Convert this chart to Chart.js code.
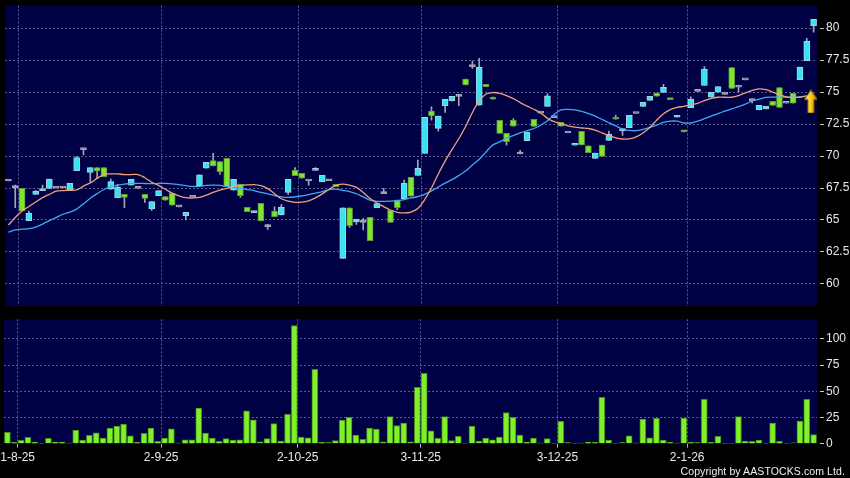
<!DOCTYPE html>
<html>
<head>
<meta charset="utf-8">
<script src="https://cdn.jsdelivr.net/npm/chart.js@4.4.1/dist/chart.umd.min.js"></script>
<style>
body { margin: 0; background: #000; width: 850px; height: 478px; overflow: hidden; position: relative; }
#priceChart { position: absolute; left: 0; top: 0; }
#volChart { position: absolute; left: 0; top: 312px; }
#copy { position: absolute; right: 5px; top: 465px; color: #f0f0f0; font: 10.5px "Liberation Sans", Arial, sans-serif; letter-spacing: 0.1px; }
</style>
</head>
<body>
<canvas id="priceChart" width="850" height="312"></canvas>
<canvas id="volChart" width="850" height="166"></canvas>
<div id="copy">Copyright by AASTOCKS.com Ltd.</div>
<script>
// daily candles, index 0..118
var opens = [68.05,67.53,67.47,64.95,67.0,67.3,67.47,67.5,67.5,67.29,
  68.85,70.5,68.72,69.09,69.09,67.4,66.75,67.0,67.73,67.47,
  67.0,65.86,66.9,66.82,67.08,66.02,65.34,66.8,67.68,69.04,
  69.64,69.56,69.82,67.34,67.79,65.99,65.57,66.3,64.48,65.7,
  65.39,67.16,68.88,68.65,68.05,68.88,68.0,68.07,67.79,62.0,
  65.96,64.85,64.82,65.21,65.96,67.06,65.75,66.51,66.67,68.33,
  68.49,70.2,73.52,72.16,73.93,74.3,74.66,76.02,76.98,73.98,
  75.6,74.6,72.79,71.77,72.81,70.16,71.2,72.86,73.35,73.88,
  73.0,72.63,71.8,70.84,71.92,70.8,69.82,70.86,71.22,73.02,
  71.98,72.21,73.32,73.88,74.35,74.91,74.97,74.48,73.03,71.98,
  73.78,75.05,75.51,74.59,74.98,74.82,76.9,75.37,75.95,74.33,
  73.6,73.67,74.27,75.35,74.12,74.9,75.96,77.45,80.19];
var highs = [68.05,67.73,67.47,65.7,67.3,67.73,68.2,67.5,67.5,67.86,
  69.95,70.5,69.09,69.09,69.09,68.2,67.78,67.0,68.18,67.47,
  67.0,66.43,67.29,66.82,67.08,66.02,65.6,66.8,68.52,69.5,
  70.2,69.56,69.82,68.18,67.79,65.99,65.7,66.3,64.66,66.03,
  66.2,68.18,69.1,68.65,68.05,69.1,68.49,68.07,67.79,65.96,
  65.96,65.05,65.13,65.21,66.28,67.47,65.75,66.51,68.12,68.33,
  69.69,73.02,73.85,73.12,74.43,74.66,74.82,76.02,77.42,77.63,
  75.6,74.6,72.79,71.77,72.92,70.45,71.86,72.86,73.35,74.87,
  73.0,72.63,71.8,70.94,71.92,70.8,70.23,70.86,71.95,73.2,
  72.15,73.18,73.32,74.2,74.66,74.91,75.6,74.48,73.13,71.98,
  74.62,75.05,76.98,74.97,75.43,74.82,76.9,75.37,75.95,74.45,
  73.96,73.88,74.27,75.35,74.12,74.9,76.95,79.2,80.68];
var lows = [68.05,65.96,65.7,64.95,67.0,67.3,67.47,67.5,67.5,67.29,
  68.85,70.08,68.0,68.26,68.39,67.4,66.75,65.96,67.73,67.47,
  66.38,65.75,66.9,66.54,66.15,66.02,65.0,66.8,67.68,69.04,
  69.22,68.57,67.6,67.34,66.77,65.65,65.57,64.92,64.27,65.26,
  65.39,67.0,68.46,68.26,67.73,68.88,68.0,68.07,67.6,62.0,
  64.42,64.65,64.22,63.38,65.96,67.06,64.82,65.8,66.67,66.87,
  68.49,70.2,72.8,71.95,73.4,74.3,73.93,75.55,76.85,73.98,
  75.41,74.45,71.77,70.85,72.34,70.16,71.2,72.32,73.35,73.88,
  73.0,72.34,71.8,70.84,70.86,70.26,69.82,69.97,71.22,72.87,
  71.6,72.21,73.32,73.88,74.35,74.67,74.97,74.4,73.03,71.88,
  73.78,75.05,75.51,74.59,74.98,74.82,75.29,75.0,75.95,74.15,
  73.6,73.67,73.95,73.8,74.12,74.12,75.96,77.45,79.67];
var closes = [68.05,67.53,65.7,65.52,67.24,67.45,68.2,67.5,67.5,67.86,
  69.87,70.5,69.09,68.83,68.39,68.0,67.58,66.77,68.18,67.47,
  66.69,66.43,67.29,66.54,66.15,66.02,65.6,66.8,68.52,69.5,
  69.22,68.78,67.6,68.18,66.9,65.65,65.7,64.92,64.48,65.26,
  65.99,68.18,68.46,68.26,68.05,69.0,68.49,68.07,67.6,65.96,
  64.56,65.05,64.82,63.38,66.28,67.06,64.82,65.96,67.86,66.87,
  69.04,73.02,73.15,73.12,74.43,74.66,74.66,75.55,76.98,76.93,
  75.41,74.45,71.77,71.12,72.34,70.16,71.86,72.32,73.35,74.7,
  73.0,72.34,71.8,70.94,70.86,70.26,70.23,69.97,71.7,72.87,
  72.15,73.18,73.32,74.2,74.66,74.67,75.37,74.4,73.13,71.88,
  74.44,75.05,76.8,74.97,75.43,74.82,75.29,75.37,75.95,74.33,
  73.96,73.88,73.95,73.8,74.12,74.12,76.95,78.97,80.68];
var volumes = [10.8,1.3,3.2,6.1,1.6,0.3,5.1,1.6,1.6,0.6,
  13.1,3.5,8.0,10.5,5.4,15.0,16.9,18.8,7.6,1.3,
  9.9,15.0,2.2,5.4,14.3,0.6,3.8,3.8,34.1,10.2,
  5.4,2.2,4.8,3.5,3.8,31.5,22.9,1.9,4.8,19.1,
  2.5,28.0,112.7,6.4,5.7,71.0,1.3,1.0,2.9,22.6,
  25.2,8.3,4.1,15.0,14.0,1.9,25.8,17.2,19.7,1.9,
  53.8,67.2,12.4,5.1,25.8,2.9,7.0,0.6,16.9,2.5,
  5.4,3.8,6.4,29.6,25.2,8.3,1.6,5.4,0.5,4.8,
  0.3,21.3,1.0,0.3,0.5,1.6,1.3,44.3,3.5,0.5,
  1.0,7.6,0.5,23.6,5.7,24.2,3.5,1.3,0.6,24.5,
  1.3,1.0,42.4,1.3,7.0,0.3,0.3,25.8,2.5,2.2,
  3.5,0.3,19.7,2.2,0.3,0.8,21.7,42.4,8.6];
// moving averages (orange = short, blue = long)
var maShort = [64.6,65.2,65.7,66.05,66.4,66.75,67.0,67.25,67.3,67.32,
  67.35,67.65,67.9,68.25,68.55,68.6,68.6,68.55,68.55,68.55,
  68.3,67.95,67.7,67.4,67.1,66.88,66.74,66.72,66.76,66.94,
  67.15,67.33,67.47,67.62,67.7,67.74,67.76,67.68,67.45,67.05,
  66.66,66.48,66.38,66.39,66.5,66.73,67.04,67.4,67.7,67.8,
  67.72,67.55,67.15,66.68,66.33,66.05,65.78,65.6,65.55,65.62,
  65.9,66.6,67.5,68.6,69.6,70.5,71.35,72.3,73.4,74.3,
  74.85,74.96,74.9,74.72,74.48,74.17,73.9,73.65,73.36,72.94,
  72.68,72.52,72.36,72.25,72.19,72.15,72.03,71.8,71.6,71.42,
  71.33,71.34,71.5,71.8,72.22,72.8,73.3,73.62,73.8,73.88,
  73.99,74.12,74.33,74.51,74.59,74.59,74.59,74.72,74.93,75.13,
  75.24,75.19,75.0,74.8,74.61,74.59,74.59,74.69,null];
var maLong = [64.05,64.22,64.28,64.32,64.45,64.68,64.95,65.2,65.45,65.62,
  65.85,66.27,66.7,67.06,67.38,67.6,67.72,67.81,67.85,67.86,
  67.85,67.84,67.85,67.86,67.83,67.76,67.68,67.62,67.62,67.7,
  67.73,67.7,67.62,67.55,67.46,67.38,67.3,67.15,67.05,66.9,
  66.8,66.76,66.8,66.88,66.98,67.1,67.22,67.38,67.42,67.32,
  67.22,67.05,66.8,66.55,66.45,66.46,66.48,66.53,66.6,66.72,
  66.82,67.0,67.27,67.58,67.88,68.15,68.47,68.82,69.3,69.75,
  70.32,70.87,71.1,71.4,71.6,71.8,71.98,72.15,72.4,72.75,
  73.25,73.6,73.64,73.6,73.48,73.32,73.12,72.86,72.6,72.35,
  72.12,72.0,71.98,72.08,72.23,72.41,72.62,72.72,72.72,72.58,
  72.58,72.72,72.92,73.12,73.32,73.5,73.68,73.85,74.05,74.3,
  74.45,74.58,74.6,74.6,74.6,74.6,74.62,74.69,null];

var dateTickPos = [1.5, 22.5, 42.5, 60.5, 80.5, 99.5];
var dateTickLabels = ['1-8-25', '2-9-25', '2-10-25', '3-11-25', '3-12-25', '2-1-26'];
var priceTicks = [60, 62.5, 65, 67.5, 70, 72.5, 75, 77.5, 80];
var volTicks = [0, 25, 50, 75, 100];
var arrowPoint = { x: 117.6, y: 74.26 };

var navy = '#000044';
var gridCol = '#5c5c8c';
var labelCol = '#e8e8e8';
Chart.defaults.font.family = '"Liberation Sans", Arial, sans-serif';
Chart.defaults.font.size = 12;

var plotBg = {
  id: 'plotBg',
  beforeDraw: function(chart) {
    var a = chart.chartArea, c = chart.ctx;
    c.save();
    c.fillStyle = navy;
    c.fillRect(a.left, a.top, a.right - a.left, a.bottom - a.top);
    c.restore();
  }
};

var idx = opens.map(function(v, i) { return i; });

function candleColor(i, up, down, flat) {
  if (closes[i] > opens[i]) return up;
  if (closes[i] < opens[i]) return down;
  return flat;
}

// yellow marker arrow
var arrowImg = document.createElement('canvas');
arrowImg.width = 14; arrowImg.height = 24;
(function() {
  var g = arrowImg.getContext('2d');
  var grad = g.createLinearGradient(0, 0, 14, 0);
  grad.addColorStop(0, '#fff5a0');
  grad.addColorStop(0.45, '#ffd020');
  grad.addColorStop(1, '#c08000');
  g.fillStyle = grad;
  g.beginPath();
  g.moveTo(7, 0.5); g.lineTo(13.5, 10); g.lineTo(10, 10); g.lineTo(10, 23.5);
  g.lineTo(4, 23.5); g.lineTo(4, 10); g.lineTo(0.5, 10); g.closePath();
  g.fill();
  g.strokeStyle = '#8a6400'; g.lineWidth = 1; g.stroke();
})();

function xAxis(withLabels) {
  return {
    type: 'linear', min: -0.5, max: 118.5, offset: false,
    afterBuildTicks: function(s) { s.ticks = dateTickPos.map(function(v) { return { value: v }; }); },
    afterFit: function(s) { s.height = withLabels ? 34.3 : 0; s.paddingLeft = 0; s.paddingRight = 0; },
    grid: { color: gridCol, offset: false, drawTicks: withLabels, tickLength: 4, tickColor: '#b4b4b4', tickBorderDash: [] },
    border: { display: false, dash: [2, 2] },
    ticks: {
      display: withLabels, color: labelCol, padding: 3, maxRotation: 0, autoSkip: false,
      callback: function(v, i) { return dateTickLabels[i]; }
    }
  };
}

function yAxis(min, max, tickList) {
  return {
    position: 'right', min: min, max: max,
    afterBuildTicks: function(s) { s.ticks = tickList.map(function(v) { return { value: v }; }); },
    afterFit: function(s) { s.width = 33; s.paddingTop = 0; s.paddingBottom = 0; },
    grid: {
      color: function(ctx) { return ctx.tick && ctx.tick.value === 0 ? 'rgba(0,0,0,0)' : gridCol; },
      tickLength: 7, tickColor: '#c8c8c8', tickBorderDash: [0, 3, 4, 20]
    },
    border: { display: false, dash: [2, 2] },
    ticks: { color: labelCol, padding: 2, callback: function(v) { return String(v); } }
  };
}

var baseOpts = {
  responsive: false, animation: false, devicePixelRatio: 1,
  plugins: { legend: { display: false }, tooltip: { enabled: false } }
};

new Chart(document.getElementById('priceChart'), {
  type: 'bar',
  data: {
    datasets: [
      {
        type: 'line', data: [arrowPoint], showLine: false,
        pointStyle: arrowImg, order: 0
      },
      {
        type: 'line', data: idx.map(function(i) { return { x: i, y: maShort[i] }; }),
        borderColor: '#f0a07c', borderWidth: 1.3, pointRadius: 0, tension: 0.35, order: 1
      },
      {
        type: 'line', data: idx.map(function(i) { return { x: i, y: maLong[i] }; }),
        borderColor: '#42a8f0', borderWidth: 1.3, pointRadius: 0, tension: 0.35, order: 1
      },
      {
        data: idx.map(function(i) { return { x: i, y: [opens[i], closes[i]] }; }),
        barThickness: 6, minBarLength: 2, grouped: false, order: 2,
        borderWidth: 1, borderSkipped: false,
        backgroundColor: function(ctx) { return candleColor(ctx.dataIndex, '#36e4f4', '#7ee62c', '#a8a8b8'); },
        borderColor: function(ctx) { return candleColor(ctx.dataIndex, '#a6d2e2', '#5c9a3c', '#a8a8b8'); }
      },
      {
        data: idx.map(function(i) { return { x: i, y: [lows[i], highs[i]] }; }),
        barThickness: 1, grouped: false, order: 3,
        backgroundColor: '#a4a4b4', borderWidth: 0
      }
    ]
  },
  options: Object.assign({}, baseOpts, {
    layout: { padding: { left: 4, top: 5.5, right: 0, bottom: 6 } },
    scales: { x: xAxis(false), y: yAxis(58.28, 81.76, priceTicks) }
  }),
  plugins: [plotBg]
});

new Chart(document.getElementById('volChart'), {
  type: 'bar',
  data: {
    datasets: [{
      data: idx.map(function(i) { return { x: i, y: volumes[i] }; }),
      barThickness: 6, grouped: false,
      backgroundColor: '#80f02a', borderColor: '#468a1c', borderWidth: 1, borderSkipped: 'start'
    }]
  },
  options: Object.assign({}, baseOpts, {
    layout: { padding: { left: 4, top: 7.3, right: 0, bottom: 0 } },
    scales: { x: xAxis(true), y: yAxis(0, 118.8, volTicks) }
  }),
  plugins: [plotBg]
});
</script>
</body>
</html>
